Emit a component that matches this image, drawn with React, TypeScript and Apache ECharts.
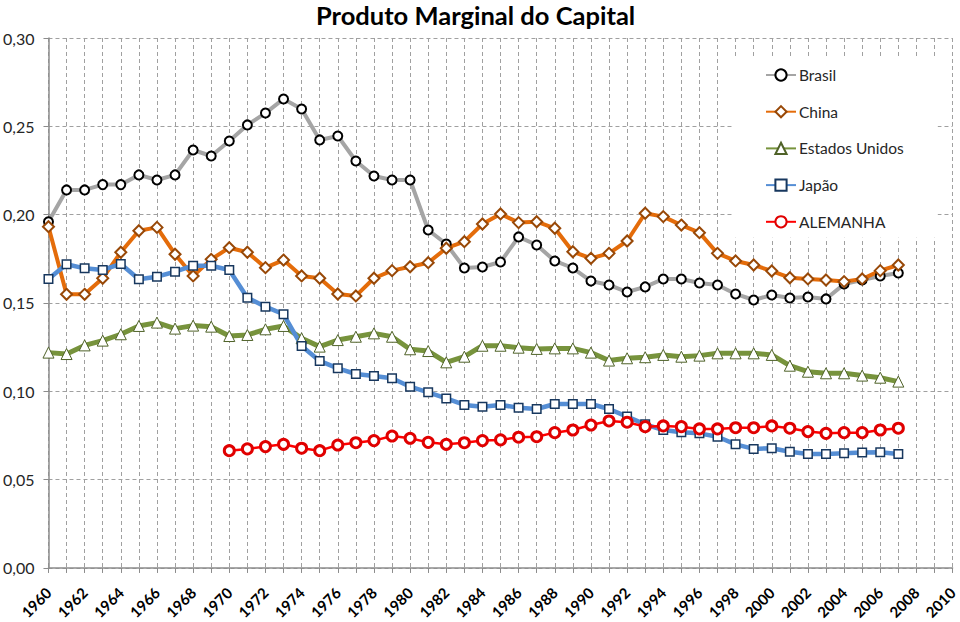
import React, { useEffect, useRef } from "react";
import * as echarts from "echarts";

const years: string[] = [];
for (let y = 1960; y <= 2010; y++) years.push(String(y));

const brasil = [0.196, 0.214, 0.214, 0.217, 0.217, 0.2225, 0.2196, 0.2225, 0.2366, 0.2332,
  0.2417, 0.2508, 0.2575, 0.2655, 0.2598, 0.2423, 0.2445, 0.2304, 0.2219, 0.2196,
  0.2196, 0.1913, 0.1834, 0.1698, 0.1704, 0.1732, 0.1874, 0.1828, 0.1738, 0.1698,
  0.1624, 0.1602, 0.1562, 0.1591, 0.1636, 0.1636, 0.1613, 0.1602, 0.1551, 0.1517,
  0.1545, 0.1528, 0.1534, 0.1523, 0.1607, 0.163, 0.1653, 0.167];

const china = [0.1932, 0.1549, 0.1549, 0.164, 0.1787, 0.1909, 0.1928, 0.1776, 0.1653, 0.1747,
  0.1813, 0.1787, 0.170, 0.1743, 0.1653, 0.164, 0.1551, 0.154, 0.164, 0.1683,
  0.1705, 0.1728, 0.181, 0.1847, 0.1947, 0.2004, 0.1955, 0.196, 0.1923, 0.179,
  0.1753, 0.1781, 0.1851, 0.2008, 0.1989, 0.1941, 0.1898, 0.1781, 0.1738, 0.1715,
  0.1681, 0.1643, 0.1636, 0.163, 0.1621, 0.1636, 0.1683, 0.1715];

const estadosUnidos = [0.1219, 0.1211, 0.126, 0.1287, 0.1323, 0.137, 0.1389, 0.1355, 0.1372, 0.1366,
  0.1313, 0.1319, 0.1351, 0.137, 0.130, 0.1253, 0.129, 0.1309, 0.1328, 0.1309,
  0.1238, 0.1228, 0.1164, 0.1196, 0.1258, 0.1258, 0.1247, 0.124, 0.1243, 0.1243,
  0.1219, 0.1174, 0.1187, 0.1193, 0.1206, 0.1196, 0.1202, 0.1215, 0.1215, 0.1215,
  0.1206, 0.1145, 0.1111, 0.1102, 0.1102, 0.1089, 0.1077, 0.1055];

const japao = [0.1636, 0.1719, 0.1696, 0.1687, 0.1721, 0.1634, 0.1649, 0.1677, 0.1711, 0.1711,
  0.1687, 0.153, 0.1479, 0.1436, 0.1257, 0.1172, 0.113, 0.1098, 0.1087, 0.1074,
  0.1026, 0.0994, 0.096, 0.0923, 0.0913, 0.0923, 0.0907, 0.09, 0.0928, 0.0928,
  0.0928, 0.09, 0.0857, 0.0813, 0.0781, 0.0768, 0.0762, 0.0743, 0.07, 0.0674,
  0.0678, 0.0658, 0.0645, 0.0645, 0.0649, 0.0653, 0.0655, 0.0645];

const alemanha = [null, null, null, null, null, null, null, null, null, null,
  0.0664, 0.0674, 0.0687, 0.07, 0.0678, 0.0664, 0.0696, 0.0709, 0.0721, 0.0747,
  0.0734, 0.0711, 0.07, 0.0709, 0.0721, 0.0725, 0.074, 0.0743, 0.0766, 0.0781,
  0.0809, 0.0832, 0.0825, 0.08, 0.0804, 0.08, 0.0787, 0.0787, 0.0794, 0.0794,
  0.0804, 0.0791, 0.0772, 0.0762, 0.0766, 0.0766, 0.0781, 0.0791];

const seriesNames = ["Brasil", "China", "Estados Unidos", "Japão", "ALEMANHA"];

export default function App() {
  const ref = useRef<HTMLDivElement>(null);
  useEffect(() => {
    if (!ref.current) return;
    const chart = echarts.init(ref.current, undefined, { renderer: "svg" });
    const mk = (
      name: string,
      data: (number | null)[],
      lineColor: string,
      lineWidth: number,
      symbol: string,
      symbolSize: number,
      borderColor: string,
      borderWidth: number
    ) => ({
      name,
      type: "line",
      data,
      symbol,
      symbolSize,
      showAllSymbol: true,
      connectNulls: false,
      lineStyle: { color: lineColor, width: lineWidth },
      itemStyle: { color: "#ffffff", borderColor, borderWidth },
      emphasis: { disabled: true },
    });
    chart.setOption({
      animation: false,
      backgroundColor: "#ffffff",
      title: {
        text: "Produto Marginal do Capital",
        left: 316,
        top: 2,
        padding: 0,
        textStyle: { fontFamily: "Lato", fontWeight: "bold", fontSize: 25.5, color: "#000" },
      },
      legend: {
        data: seriesNames,
        orient: "vertical",
        left: 732,
        top: 57,
        padding: [10, 34, 8, 33],
        itemWidth: 30,
        itemHeight: 14,
        itemGap: 20.7,
        backgroundColor: "#ffffff",
        textStyle: { fontFamily: "Lato", fontSize: 15.5, color: "#262626", padding: [0, 0, 0, -2] },
      },
      grid: { left: 48, right: 5, top: 38, bottom: 54 },
      xAxis: {
        type: "category",
        data: years,
        boundaryGap: false,
        axisLine: { lineStyle: { color: "#8c8c8c", width: 1.5 } },
        axisTick: { interval: 0, length: 5, lineStyle: { color: "#8c8c8c" } },
        axisLabel: {
          interval: 1,
          rotate: 45,
          margin: 22,
          fontFamily: "Lato",
          fontWeight: "bold",
          fontSize: 15,
          color: "#000",
        },
        splitLine: {
          show: true,
          interval: 0,
          lineStyle: { color: "#a0a0a0", type: [4, 3], width: 1 },
        },
      },
      yAxis: {
        type: "value",
        min: 0,
        max: 0.3,
        interval: 0.05,
        axisLine: { show: true, lineStyle: { color: "#8c8c8c", width: 1.5 } },
        axisTick: { show: true, length: 5, lineStyle: { color: "#8c8c8c" } },
        axisLabel: {
          formatter: (v: number) => v.toFixed(2).replace(".", ","),
          fontFamily: "Lato",
          fontSize: 16,
          color: "#262626",
          margin: 14,
        },
        splitLine: { lineStyle: { color: "#a0a0a0", type: [4, 3], width: 1 } },
      },
      series: [
        mk("Brasil", brasil, "#a5a5a5", 4, "circle", 9, "#000000", 2),
        mk("China", china, "#e46c0a", 4, "diamond", 11, "#984807", 2),
        mk("Estados Unidos", estadosUnidos, "#77933c", 5, "triangle", 11, "#4f6228", 1),
        mk("Japão", japao, "#558ed5", 4.5, "rect", 8.5, "#17375e", 1.5),
        mk("ALEMANHA", alemanha, "#ff0000", 2.5, "circle", 10, "#e00000", 3),
      ],
    });
    return () => chart.dispose();
  }, []);
  return (
    <div
      ref={ref}
      style={{ position: "fixed", left: 0, top: 0, width: 960, height: 622, background: "#fff" }}
    />
  );
}
